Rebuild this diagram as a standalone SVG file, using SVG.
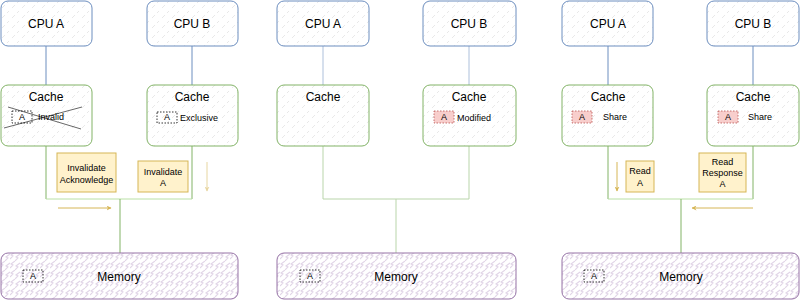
<svg xmlns="http://www.w3.org/2000/svg" width="800" height="300" viewBox="0 0 800 300">
<defs>
<pattern id="hatch" width="10" height="10" patternUnits="userSpaceOnUse">
<path d="M2 8 L5 5 M7 3 L9 1" stroke="#e2e2e2" stroke-width="0.8" fill="none"/>
</pattern>
<pattern id="zig" width="10" height="9" patternUnits="userSpaceOnUse">
<path d="M0 7 L3 4 L1 3 L5 0 M5 9 L8 6 L6 5 L10 2" stroke="#e1d5e7" stroke-width="1.1" fill="none"/>
</pattern>
<marker id="ah" viewBox="0 0 10 10" refX="9" refY="5" markerWidth="5" markerHeight="5" orient="auto">
<path d="M0 0 L10 5 L0 10 L3 5 Z" fill="#d6b656"/>
</marker>
<style>
.cpu{fill:url(#hatch);stroke:#6c8ebf;stroke-width:1}
.cache{fill:url(#hatch);stroke:#82b366;stroke-width:1}
.mem{fill:url(#zig);stroke:#9673a6;stroke-width:1}
.msg{fill:#fff2cc;stroke:#d6b656;stroke-width:1}
.ab{fill:none;stroke:#000;stroke-width:0.8;stroke-dasharray:1.5 1.5}
.abr{fill:#f8cecc;stroke:#b85450;stroke-width:0.8;stroke-dasharray:1.5 1.5}
.t{font-family:"Liberation Sans",Arial,sans-serif;fill:#000;text-anchor:middle;dominant-baseline:central}
.l{font-size:12px}
.s{font-size:9px}
.bl{stroke:#6c8ebf;stroke-width:1;fill:none}
.gl{stroke:#82b366;stroke-width:1;fill:none}
.glt{stroke:#b9e0a5;stroke-width:1;fill:none}
.arr{stroke:#d6b656;stroke-width:1;fill:none;marker-end:url(#ah)}
.faint{opacity:0.55}
</style>
</defs>

<g id="connectors">
<path class="bl" d="M46 46 V85"/>
<path class="bl" d="M192 46 V85"/>
<path class="gl" d="M46 146 V199"/>
<path class="gl" d="M192 146 V199"/>
<path class="glt" d="M46 199 H192"/>
<path class="gl" d="M120 199 V253"/>
<path class="arr" d="M58 208 H111"/>
<path class="arr faint" d="M207 162 V191"/>
<g class="faint">
<path class="bl" d="M323 46 V85"/>
<path class="bl" d="M469 46 V85"/>
<path class="gl" d="M323 146 V199"/>
<path class="gl" d="M469 146 V199"/>
<path class="gl" d="M323 199 H469"/>
<path class="gl" d="M396 199 V253"/>
</g>
<path class="bl" d="M608 46 V85"/>
<path class="bl" d="M753 46 V85"/>
<path class="gl" d="M608 146 V199"/>
<path class="gl" d="M753 146 V199"/>
<path class="glt" d="M608 199 H753"/>
<path class="gl" d="M681 199 V253"/>
<path class="arr" d="M617 162 V191"/>
<path class="arr" d="M753 208 H692"/>
</g>

<g id="cpuA1"><rect class="cpu" x="1" y="1" width="91" height="45" rx="7"/><text class="t l" x="46" y="24">CPU A</text></g>
<g id="cpuB1"><rect class="cpu" x="147" y="1" width="91" height="45" rx="7"/><text class="t l" x="192" y="24">CPU B</text></g>
<g id="cacheA1"><rect class="cache" x="1" y="85" width="91" height="61" rx="7"/><text class="t l" x="46" y="97">Cache</text>
<rect class="ab" x="12" y="111" width="20" height="12"/><text class="t s" x="22" y="117">A</text>
<text class="t s" x="38" y="117" style="text-anchor:start">Invalid</text>
<path d="M8 107 L81 129 M4 128 L82 107" stroke="#000" stroke-width="0.6" fill="none"/></g>
<g id="cacheB1"><rect class="cache" x="147" y="85" width="91" height="61" rx="7"/><text class="t l" x="192" y="97">Cache</text>
<rect class="ab" x="157" y="112" width="20" height="11"/><text class="t s" x="167" y="117">A</text>
<text class="t s" x="180" y="118" style="text-anchor:start">Exclusive</text></g>
<g id="msgAck"><rect class="msg" x="57" y="153" width="59" height="39"/><text class="t s" x="86.5" y="168">Invalidate</text><text class="t s" x="86.5" y="180">Acknowledge</text></g>
<g id="msgInv"><rect class="msg" x="138" y="161" width="50" height="31"/><text class="t s" x="163" y="172">Invalidate</text><text class="t s" x="163" y="183">A</text></g>
<g id="mem1"><rect class="mem" x="1" y="253" width="237" height="46" rx="7"/><rect class="ab" x="23" y="270" width="20" height="12"/><text class="t s" x="33" y="276">A</text><text class="t l" x="119" y="277">Memory</text></g>

<g id="cpuA2"><rect class="cpu" x="277" y="1" width="92" height="45" rx="7"/><text class="t l" x="323" y="24">CPU A</text></g>
<g id="cpuB2"><rect class="cpu" x="423" y="1" width="93" height="45" rx="7"/><text class="t l" x="469" y="24">CPU B</text></g>
<g id="cacheA2"><rect class="cache" x="277" y="85" width="92" height="61" rx="7"/><text class="t l" x="323" y="97">Cache</text></g>
<g id="cacheB2"><rect class="cache" x="423" y="85" width="93" height="61" rx="7"/><text class="t l" x="469" y="97">Cache</text>
<rect class="abr" x="434" y="111" width="20" height="12"/><text class="t s" x="444" y="117">A</text>
<text class="t s" x="457" y="118" style="text-anchor:start">Modified</text></g>
<g id="mem2"><rect class="mem" x="277" y="253" width="239" height="46" rx="7"/><rect class="ab" x="300" y="270" width="20" height="12"/><text class="t s" x="310" y="276">A</text><text class="t l" x="396" y="277">Memory</text></g>

<g id="cpuA3"><rect class="cpu" x="562" y="1" width="91" height="45" rx="7"/><text class="t l" x="608" y="24">CPU A</text></g>
<g id="cpuB3"><rect class="cpu" x="707" y="1" width="92" height="45" rx="7"/><text class="t l" x="753" y="24">CPU B</text></g>
<g id="cacheA3"><rect class="cache" x="562" y="85" width="91" height="61" rx="7"/><text class="t l" x="608" y="97">Cache</text>
<rect class="abr" x="572" y="111" width="20" height="12"/><text class="t s" x="582" y="117">A</text>
<text class="t s" x="603" y="117" style="text-anchor:start">Share</text></g>
<g id="cacheB3"><rect class="cache" x="707" y="85" width="92" height="61" rx="7"/><text class="t l" x="753" y="97">Cache</text>
<rect class="abr" x="718" y="111" width="20" height="12"/><text class="t s" x="728" y="117">A</text>
<text class="t s" x="748" y="117" style="text-anchor:start">Share</text></g>
<g id="msgRead"><rect class="msg" x="626" y="161" width="28" height="31"/><text class="t s" x="640" y="171">Read</text><text class="t s" x="640" y="183">A</text></g>
<g id="msgResp"><rect class="msg" x="699" y="153" width="47" height="39"/><text class="t s" x="722.5" y="162">Read</text><text class="t s" x="722.5" y="173">Response</text><text class="t s" x="722.5" y="184">A</text></g>
<g id="mem3"><rect class="mem" x="562" y="253" width="237" height="46" rx="7"/><rect class="ab" x="584" y="270" width="20" height="12"/><text class="t s" x="594" y="276">A</text><text class="t l" x="681" y="277">Memory</text></g>
</svg>
